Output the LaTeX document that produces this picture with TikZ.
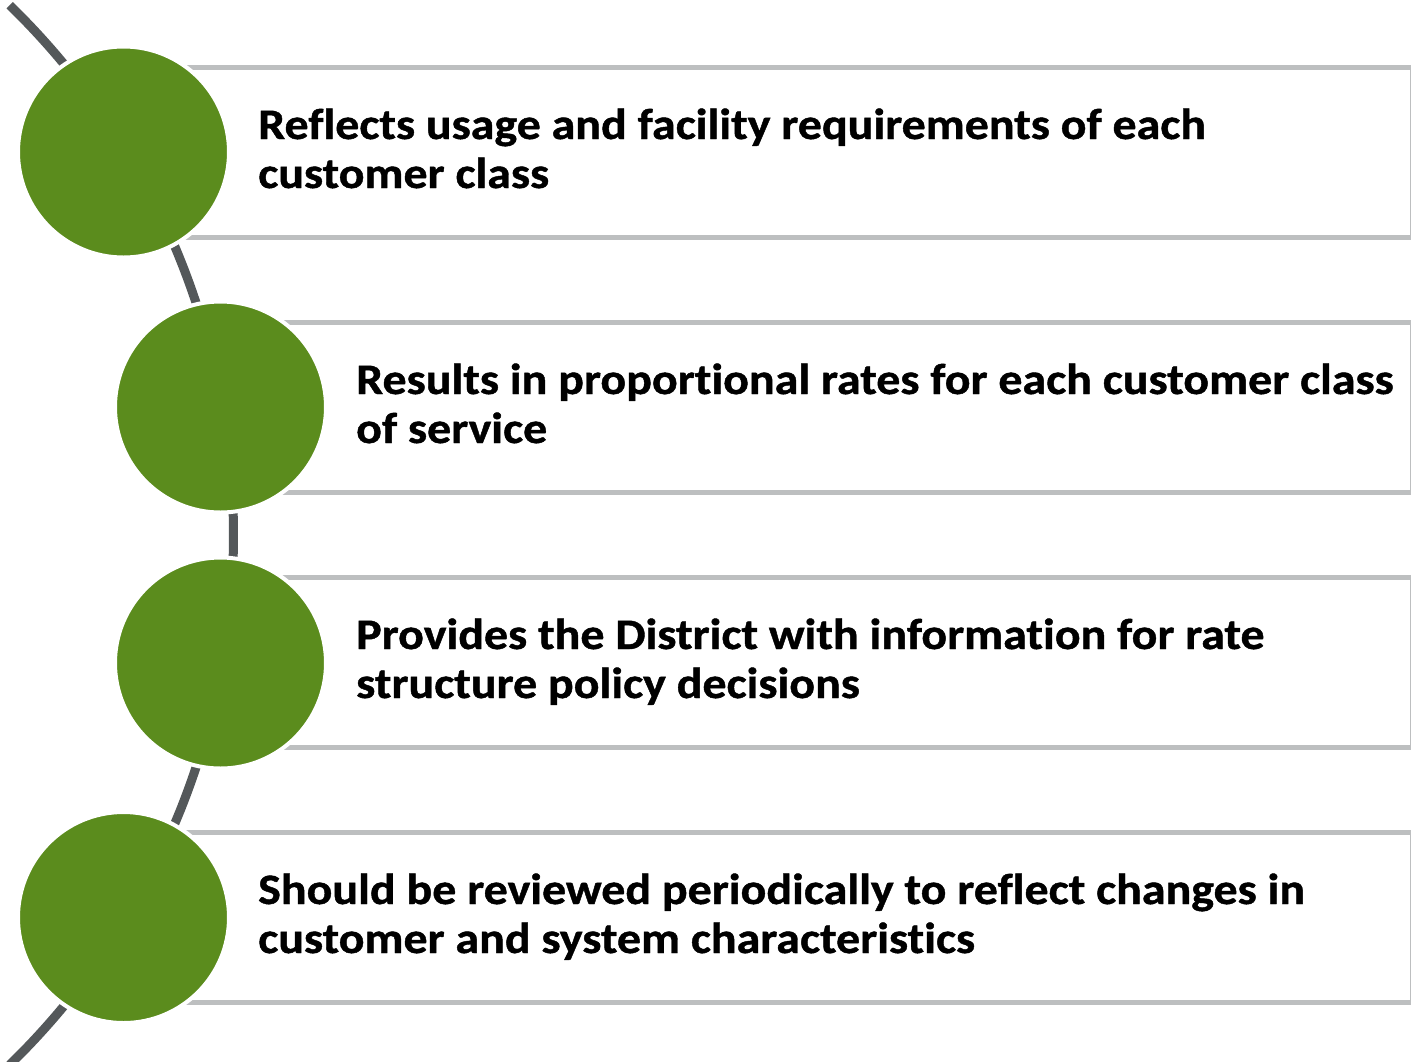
\documentclass[tikz,border=0pt]{standalone}
\usepackage{fontspec}
\setmainfont{Carlito}[Ligatures=NoCommon, FakeStretch=1.102, BoldFeatures={FakeBold=1}]
\definecolor{leaf}{HTML}{5B8C1D}
\definecolor{boxline}{HTML}{BDBFC0}
\definecolor{arcgray}{HTML}{54585A}
\begin{document}
\begin{tikzpicture}[x=1pt,y=-1pt,
  bullet/.style={circle, fill=leaf, draw=white, line width=4pt, minimum size=211pt, inner sep=0pt},
  panel/.style={draw=boxline, fill=white, line width=5pt},
  label/.style={anchor=base west, inner sep=0pt, font=\fontsize{43.5}{48}\selectfont\bfseries, align=left},
  spine/.style={draw=arcgray, line width=9pt}]
\clip (0,0) rectangle (1411,1061);
\fill[white] (0,0) rectangle (1411,1061);
% spine arc
\coordinate (arcstart) at ([shift={(-45.8:739)}]-505.5,535);
\draw[spine] (arcstart) arc[start angle=-45.8, end angle=45.8, radius=739];
% panels
\draw[panel] (123.5,67.5) rectangle (1412,237.5) coordinate (b1);
\draw[panel] (220.5,322.5) rectangle (1412,492.5) coordinate (b2);
\draw[panel] (220.5,577.5) rectangle (1412,747.5) coordinate (b3);
\draw[panel] (123.5,832.5) rectangle (1412,1002.5) coordinate (b4);
% circles
\node[bullet] (c1) at (123.5,152) {};
\node[bullet] (c2) at (220.5,407) {};
\node[bullet] (c3) at (220.5,663) {};
\node[bullet] (c4) at (123.5,917.5) {};
% texts
\node[label] (t1a) at (258,139) {Reflects usage and facility requirements of each};
\node[label] (t1b) at (258,188) {customer class};
\node[label] (t2a) at (356,394) {Results in proportional rates for each customer class};
\node[label] (t2b) at (356,443) {of service};
\node[label] (t3a) at (356,649) {Provides the District with information for rate};
\node[label] (t3b) at (356,698) {structure policy decisions};
\node[label] (t4a) at (258,904) {Should be reviewed periodically to reflect changes in};
\node[label] (t4b) at (258,953) {customer and system characteristics};
\end{tikzpicture}
\end{document}
